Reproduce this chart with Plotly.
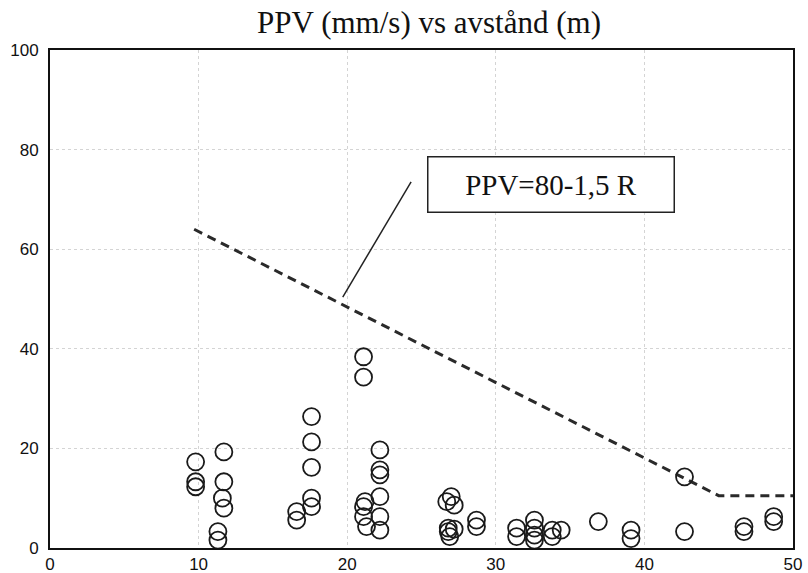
import plotly.graph_objects as go

# Measured points: distance R (m) and PPV (mm/s)
dist = [9.8, 9.8, 9.8,
        11.7, 11.7, 11.6, 11.7, 11.3, 11.3,
        17.6, 17.6, 17.6, 17.6, 17.6, 16.6, 16.6,
        22.2, 22.2, 22.2, 22.2, 22.2, 22.2, 21.2, 21.1, 21.1, 21.3, 21.1, 21.1,
        27.0, 26.7, 27.2, 26.8, 26.8, 26.9, 27.2,
        28.7, 28.7,
        31.4, 31.4,
        32.6, 32.6, 32.6, 32.6,
        33.8, 33.8, 34.4,
        36.9,
        39.1, 39.1,
        42.7, 42.7,
        46.7, 46.7,
        48.7, 48.7]
ppv = [17.3, 13.3, 12.3,
       19.3, 13.3, 10.0, 8.0, 3.3, 1.6,
       26.4, 21.3, 16.2, 10.0, 8.3, 7.3, 5.6,
       19.7, 15.7, 14.7, 10.3, 6.3, 3.6, 9.3, 8.3, 6.3, 4.3, 38.4, 34.3,
       10.3, 9.3, 8.6, 4.0, 3.3, 2.3, 3.8,
       5.6, 4.3,
       4.0, 2.3,
       5.6, 4.0, 2.6, 1.6,
       3.6, 2.3, 3.6,
       5.3,
       3.6, 1.9,
       14.3, 3.3,
       4.3, 3.3,
       6.3, 5.3]

# Limit curve PPV = 80 - 1.5 R, flat beyond ~45 m
limit_x = [9.7, 45.0, 50.0]
limit_y = [64.0, 10.5, 10.5]

x_ticks = [0, 10, 20, 30, 40, 50]
y_ticks = [0, 20, 40, 60, 80, 100]

fig = go.Figure()
fig.add_trace(go.Scatter(
    x=limit_x, y=limit_y, mode="lines",
    line=dict(color="#2a2a2a", width=3, dash="9px,6px"),
    showlegend=False, hoverinfo="skip"))
fig.add_trace(go.Scatter(
    x=dist, y=ppv, mode="markers",
    marker=dict(symbol="circle-open", size=17, color="#1a1a1a",
                line=dict(width=1.8, color="#1a1a1a")),
    showlegend=False, cliponaxis=False))

# leader line from label box to curve
fig.add_shape(type="line", x0=24.3, y0=73.5, x1=19.7, y1=50.4,
              xref="x", yref="y", line=dict(color="#222", width=1.5))

fig.add_annotation(x=33.7, y=72.9, xref="x", yref="y",
                   text="PPV=80-1,5 R", showarrow=False,
                   font=dict(family="Liberation Serif", size=29, color="#111"),
                   bordercolor="#222", borderwidth=1.5, borderpad=0,
                   bgcolor="white", width=245, height=54, align="center")

fig.update_layout(
    width=808, height=573,
    margin=dict(l=50, r=15, t=50, b=25, autoexpand=False),
    paper_bgcolor="white", plot_bgcolor="white",
    title=dict(text="PPV (mm/s) vs avstånd (m)", x=0.531, xanchor="center",
               y=0.962, yanchor="middle",
               font=dict(family="Liberation Serif", size=31, color="#111")),
    font=dict(family="Liberation Sans", size=17, color="#111"),
)
fig.update_xaxes(range=[0, 50], tickvals=x_ticks, ticktext=[str(v) for v in x_ticks],
                 showline=True, linecolor="#111", linewidth=2, mirror=True,
                 showgrid=True, gridcolor="#d4d4d4", griddash="dot", gridwidth=1,
                 zeroline=False, ticks="", ticklabelstandoff=0, automargin=False)
fig.update_yaxes(range=[0, 100], tickvals=y_ticks, ticktext=[str(v) for v in y_ticks],
                 showline=True, linecolor="#111", linewidth=2, mirror=True,
                 showgrid=True, gridcolor="#d4d4d4", griddash="dot", gridwidth=1,
                 zeroline=False, ticks="", ticklabelstandoff=6, automargin=False)

fig.write_html("out.html")
